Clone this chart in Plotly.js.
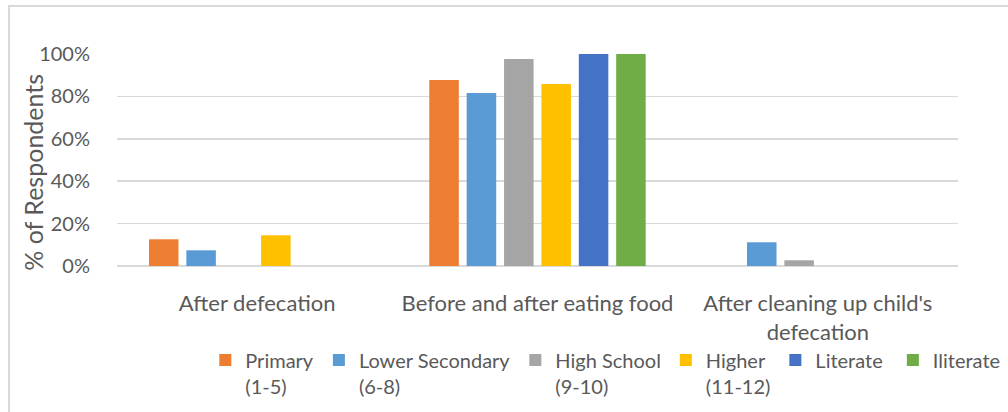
<!DOCTYPE html>
<html>
<head>
<meta charset="utf-8">
<script src="https://cdn.plot.ly/plotly-3.0.1.min.js"></script>
<style>
  html, body { margin: 0; padding: 0; background: #ffffff; overflow: hidden; }
  #frame { position: absolute; left: 8px; top: 5px; width: 1010px; height: 420px;
           border: 2px solid #d9d9d9; box-sizing: border-box; pointer-events: none; }
  #chart { position: absolute; left: 0; top: 0; width: 1008px; height: 412px; }
</style>
</head>
<body>
<div id="chart"></div>
<div id="frame"></div>
<script>
// Hand-washing occasions, by education level of respondent
const occasions = [
  "After defecation",
  "Before and after eating food",
  "After cleaning up child's<br>defecation"
];

// Legend names (a non-breaking space widens the single-line entry)
const groupNames = [
  "Primary<br>(1-5)",
  "Lower Secondary<br>(6-8)",
  "High School<br>(9-10)",
  "Higher<br>(11-12)",
  "Literate&nbsp;",
  "Iliterate"
];

// Share of respondents (fractions) per occasion
const primary        = [0.126, 0.877, 0];
const lowerSecondary = [0.074, 0.816, 0.112];
const highSchool     = [0,     0.976, 0.027];
const higher         = [0.145, 0.858, 0];
const literate       = [0,     1.0,   0];
const illiterate     = [0,     1.0,   0];

const seriesValues = [primary, lowerSecondary, highSchool, higher, literate, illiterate];
const seriesColors = ["#ed7d31", "#5b9bd5", "#a5a5a5", "#ffc000", "#4472c4", "#70ad47"];

const yTicks = [0, 0.2, 0.4, 0.6, 0.8, 1.0];
const yTickText = ["0%", "20%", "40%", "60%", "80%", "100%"];
const yTitle = "% of Respondents";

const textColor = "#595959";
const fontFamily = "Lato, 'Open Sans', sans-serif";

const traces = seriesValues.map((vals, i) => ({
  type: "bar",
  name: groupNames[i],
  x: occasions,
  y: vals,
  marker: { color: seriesColors[i], line: { width: 0 } },
  hoverinfo: "skip"
}));

const layout = {
  width: 1008,
  height: 412,
  paper_bgcolor: "#ffffff",
  plot_bgcolor: "#ffffff",
  margin: { l: 117, r: 50, t: 54, b: 146, pad: 0, autoexpand: false },
  barmode: "group",
  bargap: 0.2,
  bargroupgap: 0.21,
  font: { family: fontFamily, color: textColor, size: 19 },
  showlegend: true,
  legend: {
    orientation: "h",
    x: 0.105,
    xanchor: "left",
    y: -0.352,
    yanchor: "top",
    valign: "top",
    font: { family: fontFamily, size: 20, color: textColor },
    traceorder: "normal",
    itemclick: false,
    bgcolor: "rgba(0,0,0,0)"
  },
  xaxis: {
    type: "category",
    showgrid: false,
    showline: false,
    zeroline: false,
    ticks: "outside",
    ticklen: 18,
    tickcolor: "rgba(0,0,0,0)",
    tickfont: { family: fontFamily, size: 22, color: textColor },
    fixedrange: true
  },
  yaxis: {
    range: [0, 1.0],
    tickvals: yTicks,
    ticktext: yTickText,
    showgrid: true,
    gridcolor: "#d9d9d9",
    gridwidth: 1.5,
    zeroline: true,
    zerolinecolor: "#d9d9d9",
    zerolinewidth: 1.5,
    showline: false,
    ticks: "outside",
    ticklen: 22,
    tickcolor: "rgba(0,0,0,0)",
    tickfont: { family: fontFamily, size: 20, color: textColor },
    automargin: false,
    fixedrange: true
  },
  annotations: [{
    text: yTitle,
    xref: "paper",
    yref: "paper",
    x: 0,
    xshift: -84,
    y: 0.44,
    xanchor: "center",
    yanchor: "middle",
    textangle: -90,
    showarrow: false,
    font: { family: fontFamily, size: 25, color: textColor }
  }]
};

Plotly.newPlot("chart", traces, layout, { displayModeBar: false, staticPlot: true });
</script>
</body>
</html>
